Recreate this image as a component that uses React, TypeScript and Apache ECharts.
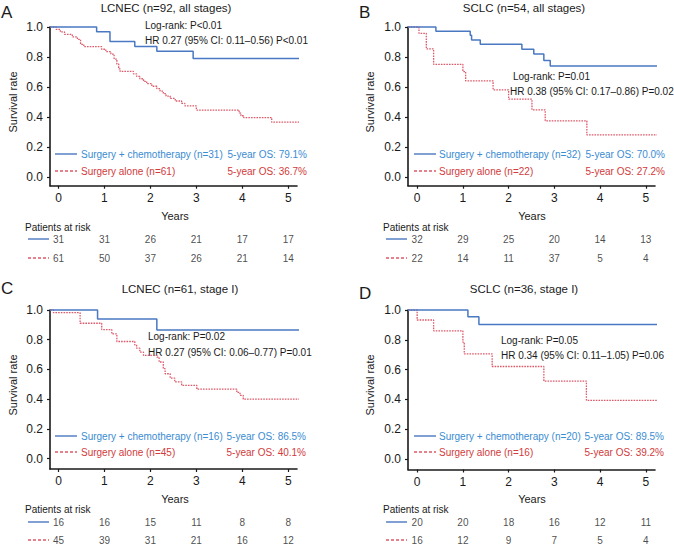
import React, { useEffect, useRef } from "react";
import * as echarts from "echarts";

// ---------- data ----------
const xTicks = [0, 1, 2, 3, 4, 5];
const yTicks = [0, 0.2, 0.4, 0.6, 0.8, 1.0];

const titles = ["LCNEC (n=92, all stages)", "SCLC (n=54, all stages)", "LCNEC (n=61, stage I)", "SCLC (n=36, stage I)"];
const letters = ["A", "B", "C", "D"];
const chemoNames = ["Surgery + chemotherapy (n=31)", "Surgery + chemotherapy (n=32)", "Surgery + chemotherapy (n=16)", "Surgery + chemotherapy (n=20)"];
const aloneNames = ["Surgery alone (n=61)", "Surgery alone (n=22)", "Surgery alone (n=45)", "Surgery alone (n=16)"];
const chemoOS = ["5-year OS: 79.1%", "5-year OS: 70.0%", "5-year OS: 86.5%", "5-year OS: 89.5%"];
const aloneOS = ["5-year OS: 36.7%", "5-year OS: 27.2%", "5-year OS: 40.1%", "5-year OS: 39.2%"];
const logRank = ["Log-rank: P<0.01", "Log-rank: P=0.01", "Log-rank: P=0.02", "Log-rank: P=0.05"];
const hrText = [
  "HR 0.27 (95% CI: 0.11–0.56) P<0.01",
  "HR 0.38 (95% CI: 0.17–0.86) P=0.02",
  "HR 0.27 (95% CI: 0.06–0.77) P=0.01",
  "HR 0.34 (95% CI: 0.11–1.05) P=0.06",
];

// Kaplan–Meier curves: [years, survival]
const aChemo = [[-0.185, 1], [0.83, 0.968], [1.12, 0.903], [1.66, 0.871], [2.14, 0.839], [2.93, 0.791], [5.41, 0.791]];
const aAlone = [
  [-0.185, 1], [-0.05, 0.984], [0.04, 0.967], [0.13, 0.951], [0.3, 0.934], [0.41, 0.918], [0.48, 0.885],
  [0.55, 0.869], [0.94, 0.852], [1.03, 0.836], [1.14, 0.82], [1.21, 0.787], [1.27, 0.754], [1.31, 0.721],
  [1.34, 0.705], [1.63, 0.689], [1.7, 0.672], [1.77, 0.656], [1.85, 0.639], [1.92, 0.623], [2.03, 0.606],
  [2.14, 0.59], [2.21, 0.574], [2.28, 0.557], [2.34, 0.541], [2.43, 0.525], [2.54, 0.508], [2.68, 0.492],
  [2.75, 0.475], [3.0, 0.448], [3.93, 0.428], [3.97, 0.41], [4.03, 0.398], [4.64, 0.367], [5.41, 0.367],
];
const bChemo = [[-0.2, 1], [0.41, 0.972], [1.16, 0.945], [1.19, 0.914], [1.38, 0.885], [2.29, 0.852], [2.55, 0.82], [2.77, 0.777], [2.91, 0.741], [5.31, 0.741]];
const bAlone = [[-0.2, 1], [0.04, 0.958], [0.2, 0.854], [0.36, 0.752], [1.0, 0.704], [1.06, 0.642], [1.66, 0.582], [2.0, 0.52], [2.51, 0.449], [2.8, 0.376], [3.71, 0.283], [5.31, 0.283]];
const cChemo = [[-0.185, 1], [0.85, 0.94], [2.14, 0.866], [5.35, 0.866]];
const cAlone = [
  [-0.185, 1], [-0.11, 0.982], [0.47, 0.911], [0.94, 0.868], [1.16, 0.839], [1.27, 0.788], [1.66, 0.765],
  [1.7, 0.743], [1.77, 0.716], [1.85, 0.694], [2.14, 0.683], [2.19, 0.65], [2.28, 0.605], [2.32, 0.571],
  [2.43, 0.542], [2.53, 0.516], [2.68, 0.493], [3.01, 0.467], [3.88, 0.445], [3.95, 0.426], [4.02, 0.4], [5.35, 0.4],
];
const dChemo = [[-0.2, 1], [1.11, 0.955], [1.35, 0.902], [5.31, 0.902]];
const dAlone = [[-0.2, 1], [0.0, 0.933], [0.36, 0.86], [1.0, 0.784], [1.03, 0.706], [1.64, 0.621], [2.77, 0.523], [3.7, 0.394], [5.31, 0.394]];

// Patients at risk at years 0..5
const aRiskChemo = [31, 31, 26, 21, 17, 17];
const aRiskAlone = [61, 50, 37, 26, 21, 14];
const bRiskChemo = [32, 29, 25, 20, 14, 13];
const bRiskAlone = [22, 14, 11, 37, 5, 4];
const cRiskChemo = [16, 16, 15, 11, 8, 8];
const cRiskAlone = [45, 39, 31, 21, 16, 12];
const dRiskChemo = [20, 20, 18, 16, 12, 11];
const dRiskAlone = [16, 12, 9, 7, 5, 4];

const chemoCurves = [aChemo, bChemo, cChemo, dChemo];
const aloneCurves = [aAlone, bAlone, cAlone, dAlone];
const riskChemo = [aRiskChemo, bRiskChemo, cRiskChemo, dRiskChemo];
const riskAlone = [aRiskAlone, bRiskAlone, cRiskAlone, dRiskAlone];

// ---------- layout / style ----------
const FONT = '"Liberation Sans", Arial, Helvetica, sans-serif';
const BLUE_LINE = "#4a78c2";
const BLUE_TEXT = "#3a8cd2";
const RED_LINE = "#dc5a6a";
const RED_TEXT = "#d23a3c";
const INK = "#1a1a1a";

const layouts = [
  { gl: 50, gt: 27, gh: 158.7, xmin: -0.185, xmax: 5.19, ymin: -0.055, titleX: 166, titleY: 8, letX: 1, letY: 12, logX: 145, logY: 25, hrX: 145, hrY: 40, legX: 55, legTX: 81, osR: 307, leg1: 154, leg2: 171, yrsX: 175, yrsY: 216, parX: 25, parY: 227, r1: 239, r2: 258, rlX: 28, survX: 13, survY: 102 },
  { gl: 408, gt: 27, gh: 158.7, xmin: -0.2, xmax: 5.2, ymin: -0.055, titleX: 524, titleY: 8, letX: 359, letY: 12, logX: 513, logY: 76, hrX: 510, hrY: 91, legX: 414, legTX: 439, osR: 665, leg1: 154, leg2: 171, yrsX: 532, yrsY: 216, parX: 383, parY: 227, r1: 239, r2: 258, rlX: 386, survX: 370, survY: 102 },
  { gl: 50, gt: 310, gh: 159, xmin: -0.185, xmax: 5.19, ymin: -0.07, titleX: 180, titleY: 289, letX: 1, letY: 288, logX: 148, logY: 336, hrX: 148, hrY: 352, legX: 55, legTX: 81, osR: 306, leg1: 436, leg2: 452, yrsX: 175, yrsY: 499, parX: 25, parY: 509, r1: 522, r2: 540, rlX: 28, survX: 13, survY: 385 },
  { gl: 408, gt: 310, gh: 159.5, xmin: -0.2, xmax: 5.2, ymin: -0.07, titleX: 524, titleY: 289, letX: 359, letY: 293, logX: 501, logY: 340, hrX: 501, hrY: 355, legX: 414, legTX: 439, osR: 664, leg1: 436, leg2: 452, yrsX: 532, yrsY: 499, parX: 383, parY: 509, r1: 522, r2: 540, rlX: 386, survX: 370, survY: 385 },
];
const GW = 247;

function txt(text: string, x: number, y: number, size: number, fill: string, align = "left", extra: any = {}) {
  return {
    type: "text",
    x,
    y,
    silent: true,
    ...extra,
    style: { text, fill, fontSize: size, fontFamily: FONT, align, verticalAlign: "middle" },
  };
}
function seg(x1: number, x2: number, y: number, color: string, dashed: boolean, w = 1.4) {
  return {
    type: "line",
    silent: true,
    shape: { x1, y1: y, x2, y2: y },
    style: { stroke: color, lineWidth: w, lineDash: dashed ? [3, 2] : null },
  };
}

function buildOption() {
  const grid: any[] = [];
  const xAxis: any[] = [];
  const yAxis: any[] = [];
  const series: any[] = [];
  const graphic: any[] = [];

  layouts.forEach((L, i) => {
    grid.push({ left: L.gl, top: L.gt, width: GW, height: L.gh, containLabel: false });
    xAxis.push({
      gridIndex: i,
      type: "value",
      min: L.xmin,
      max: L.xmax,
      axisLine: { show: true, onZero: false, lineStyle: { color: INK, width: 1.6 } },
      axisTick: { show: true, length: 3, lineStyle: { color: INK, width: 1.2 }, customValues: xTicks },
      axisLabel: { customValues: xTicks, fontSize: 12, color: INK, fontFamily: FONT, margin: 6 },
      splitLine: { show: false },
    });
    yAxis.push({
      gridIndex: i,
      type: "value",
      min: L.ymin,
      max: 1,
      axisLine: { show: true, onZero: false, lineStyle: { color: INK, width: 1.6 } },
      axisTick: { show: true, length: 3, lineStyle: { color: INK, width: 1.2 }, customValues: yTicks },
      axisLabel: { customValues: yTicks, fontSize: 12, color: INK, fontFamily: FONT, margin: 7, formatter: (v: number) => v.toFixed(1) },
      splitLine: { show: false },
    });
    series.push({
      type: "line",
      name: aloneNames[i],
      xAxisIndex: i,
      yAxisIndex: i,
      data: aloneCurves[i],
      step: "end",
      showSymbol: false,
      symbol: "none",
      clip: false,
      silent: true,
      lineStyle: { color: RED_LINE, width: 1.3, type: [1.6, 1.1] },
      z: 2,
    });
    series.push({
      type: "line",
      name: chemoNames[i],
      xAxisIndex: i,
      yAxisIndex: i,
      data: chemoCurves[i],
      step: "end",
      showSymbol: false,
      symbol: "none",
      clip: false,
      silent: true,
      lineStyle: { color: BLUE_LINE, width: 1.5 },
      z: 3,
    });

    // graphics
    graphic.push(txt(titles[i], L.titleX, L.titleY, 11.5, INK, "center"));
    graphic.push(txt(letters[i], L.letX, L.letY, 17, INK, "left"));
    graphic.push(txt(logRank[i], L.logX, L.logY, 10, INK));
    graphic.push(txt(hrText[i], L.hrX, L.hrY, 10, INK));
    graphic.push(seg(L.legX, L.legX + 22, L.leg1, BLUE_LINE, false));
    graphic.push(seg(L.legX, L.legX + 22, L.leg2, RED_LINE, true));
    graphic.push(txt(chemoNames[i], L.legTX, L.leg1, 10, BLUE_TEXT));
    graphic.push(txt(aloneNames[i], L.legTX, L.leg2, 10, RED_TEXT));
    graphic.push(txt(chemoOS[i], L.osR, L.leg1, 10, BLUE_TEXT, "right"));
    graphic.push(txt(aloneOS[i], L.osR, L.leg2, 10, RED_TEXT, "right"));
    graphic.push(txt("Years", L.yrsX, L.yrsY, 11, INK, "center"));
    graphic.push(txt("Survival rate", L.survX, L.survY, 11, INK, "center", { rotation: Math.PI / 2 }));
    graphic.push(txt("Patients at risk", L.parX, L.parY, 10, INK));
    graphic.push(seg(L.rlX, L.rlX + 21, L.r1, BLUE_LINE, false));
    graphic.push(seg(L.rlX, L.rlX + 21, L.r2, RED_LINE, true));
  });

  // risk tables
  layouts.forEach((L, i) => {
    const k = 4 + i;
    grid.push({ left: L.gl, top: L.r1, width: GW, height: L.r2 - L.r1, containLabel: false });
    xAxis.push({ gridIndex: k, type: "value", min: L.xmin, max: L.xmax, show: false });
    yAxis.push({ gridIndex: k, type: "value", min: 0, max: 1, show: false });
    const mk = (arr: number[], row: number) => ({
      type: "scatter",
      xAxisIndex: k,
      yAxisIndex: k,
      symbolSize: 1,
      silent: true,
      itemStyle: { color: "rgba(0,0,0,0)" },
      data: xTicks.map((x, j) => [x, row, arr[j]]),
      label: {
        show: true,
        position: "inside",
        formatter: (p: any) => String(p.data[2]),
        color: INK,
        fontSize: 10,
        fontFamily: FONT,
      },
    });
    series.push(mk(riskChemo[i], 1));
    series.push(mk(riskAlone[i], 0));
  });

  return {
    animation: false,
    backgroundColor: "#ffffff",
    textStyle: { fontFamily: FONT },
    grid,
    xAxis,
    yAxis,
    series,
    graphic,
  };
}

export default function App() {
  const ref = useRef<HTMLDivElement>(null);
  useEffect(() => {
    if (!ref.current) return;
    const chart = echarts.init(ref.current, null, { renderer: "svg" });
    chart.setOption(buildOption() as any);
    return () => chart.dispose();
  }, []);
  return <div ref={ref} style={{ width: 674, height: 544, position: "absolute", left: 0, top: 0 }} />;
}
